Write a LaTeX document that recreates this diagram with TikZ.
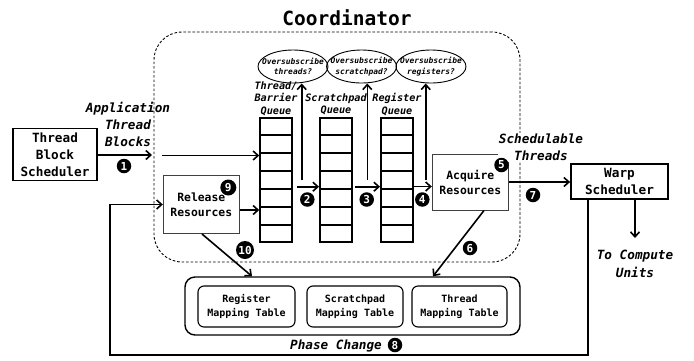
\documentclass[tikz,border=0pt]{standalone}
\usepackage{fontspec}
\setmainfont{DejaVu Sans Mono}
\usetikzlibrary{arrows.meta,shapes.geometric,calc}
\newcommand\fsz[2]{\fontsize{#1}{#2}\selectfont}
\begin{document}
\begin{tikzpicture}[x=1pt,y=-1pt,
  arr/.style={line width=1.6pt,-{Straight Barb[length=5pt,width=9pt,line width=1.6pt]}},
  bbox/.style={draw,line width=1.8pt,inner sep=0pt,align=center,font=\bfseries\fsz{12.7}{17}},
  tbox/.style={draw=black!75,line width=1pt,inner sep=0pt,align=center,font=\bfseries\fsz{11.4}{15}},
  qbox/.style={draw,line width=1.8pt,minimum width=31.7pt,minimum height=123.4pt,inner sep=0pt},
  qline/.style={line width=1.8pt},
  ell/.style={draw,ellipse,line width=0.9pt,minimum width=70pt,minimum height=33pt,inner sep=0pt},
  elltext/.style={align=center,inner sep=0pt,font=\bfseries\itshape\fsz{7.9}{10.5}},
  qlabel/.style={align=center,inner sep=0pt,font=\bfseries\itshape\fsz{10.2}{12.5}},
  itlabel/.style={align=center,inner sep=0pt,font=\bfseries\itshape\fsz{12.7}{17}},
  mbox/.style={draw,line width=1.1pt,rounded corners=6pt,minimum height=41pt,inner sep=0pt,align=center,font=\bfseries\fsz{10}{14}},
  num/.style={circle,fill=black,text=white,inner sep=0.5pt,minimum size=14.5pt,font=\bfseries\fsz{11}{11}},
  dashbox/.style={draw,line width=0.9pt,dash pattern=on 2.6pt off 1.9pt,rounded corners=28pt,inner sep=0pt}
]
\useasboundingbox (0,0) rectangle (694,360);

% title and coordinator region
\node[font=\bfseries\fsz{19.5}{22}] (title) at (347,18) {Coordinator};
\node[dashbox,minimum width=366pt,minimum height=230pt] (coord) at (337,147) {};

% thread block scheduler
\node[bbox,minimum width=84pt,minimum height=52pt] (tbs) at (55,154.5) {Thread\\Block\\Scheduler};
\node[itlabel] (app) at (128,124) {Application\\Thread\\Blocks};

% queues
\node[qbox] (q1) at (276,180) {};
\node[qbox] (q2) at (335.8,180) {};
\node[qbox] (q3) at (396.8,180) {};
\foreach \q in {q1,q2,q3}{
  \foreach \i in {1,...,6}{
    \draw[qline] ($(\q.north west)!\i/7!(\q.south west)$) -- ($(\q.north east)!\i/7!(\q.south east)$);
  }
}
\node[qlabel] (l1) at (276,98.5) {Thread/\\Barrier\\Queue};
\node[qlabel] (l2) at (336,104.5) {Scratchpad\\Queue};
\node[qlabel] (l3) at (397,104.5) {Register\\Queue};

% ellipses
\node[ell] (e1) at (293,66.5) {};
\node[ell] (e2) at (361.5,66.5) {};
\node[ell] (e3) at (431,66.5) {};
\node[elltext] (e1t) at (e1) {Oversubscribe\\threads?};
\node[elltext] (e2t) at (e2) {Oversubscribe\\scratchpad?};
\node[elltext] (e3t) at (e3) {Oversubscribe\\registers?};

% release / acquire
\node[tbox,minimum width=76pt,minimum height=58pt] (rel) at (201.3,204.5) {Release\\Resources};
\node[tbox,minimum width=76pt,minimum height=56pt] (acq) at (470.3,182) {Acquire\\Resources};

% warp scheduler
\node[bbox,minimum width=97pt,minimum height=35pt] (warp) at (619.5,181.5) {Warp\\Scheduler};
\node[itlabel,fill=white,inner sep=1pt] (sched) at (541,147.5) {Schedulable\\Threads};
\node[itlabel,font=\bfseries\itshape\fsz{12.7}{18}] (cut) at (635,263.5) {To Compute\\Units};

% mapping tables
\node[draw,line width=1.4pt,rounded corners=10pt,minimum width=335pt,minimum height=58pt] (map) at (352.5,306) {};
\node[mbox,minimum width=97pt] (mreg) at (246.5,306.5) {Register\\Mapping Table};
\node[mbox,minimum width=96pt] (mscr) at (355,306.5) {Scratchpad\\Mapping Table};
\node[mbox,minimum width=95pt] (mthr) at (459.5,306.5) {Thread\\Mapping Table};

\node[itlabel] (phase) at (336,346) {Phase Change};

% coordinates
\coordinate (in1) at (152,155);
\coordinate (in2) at (162,155.5);
\coordinate (v1) at (301.7,180);
\coordinate (v2) at (367.3,180);
\coordinate (v3) at (425.7,180);
\coordinate (h2) at (297,186.7);
\coordinate (h3) at (355,186.7);
\coordinate (h4) at (412.7,186.5);
\coordinate (r1) at (239.3,210);
\coordinate (fbx) at (588,355);
\coordinate (fbl) at (110,355);
\coordinate (cu) at (635,238);
\coordinate (a10s) at (202,233);
\coordinate (a10e) at (252,277);
\coordinate (a6s) at (484,210);
\coordinate (a6e) at (433,277);

% connectors
\draw[arr] (tbs.east |- in1) -- (in1);
\draw[arr] (in2) -- (in2 -| q1.west);
\draw[arr] (v1) -- (v1 |- e1.south);
\draw[arr] (v2) -- (v2 |- e2.south);
\draw[arr] (v3) -- (v3 |- e3.south);
\draw[arr] (h2) -- (h2 -| q2.west);
\draw[arr] (h3) -- (h3 -| q3.west);
\draw[arr] (q3.east |- h4) -- (h4 -| acq.west);
\draw[arr] (rel.east |- r1) -- (q1.west |- r1);
\draw[arr] (warp.south -| fbx) -- (fbx) -- (fbl) -- (fbl |- rel.west) -- (rel.west);
\draw[arr] (acq.east) -- (warp.west |- acq.east);
\draw[arr] (warp.south -| cu) -- (cu);
\draw[arr] (rel.south -| a10s) -- (map.north -| a10e);
\draw[arr] (acq.south -| a6s) -- (map.north -| a6e);

% step numbers
\node[num] (n1) at (124,166) {1};
\node[num] (n2) at (307.3,199.5) {2};
\node[num] (n3) at (366.7,199.5) {3};
\node[num] (n4) at (422.3,199.5) {4};
\node[num] (n5) at (501.5,165) {5};
\node[num] (n6) at (470,248) {6};
\node[num] (n7) at (533,195) {7};
\node[num] (n8) at (395,345) {8};
\node[num,minimum size=16pt] (n9) at (228.3,187.5) {9};
\node[num,minimum size=18pt,inner sep=0.3pt] (n10) at (245,250) {10};
\end{tikzpicture}
\end{document}
